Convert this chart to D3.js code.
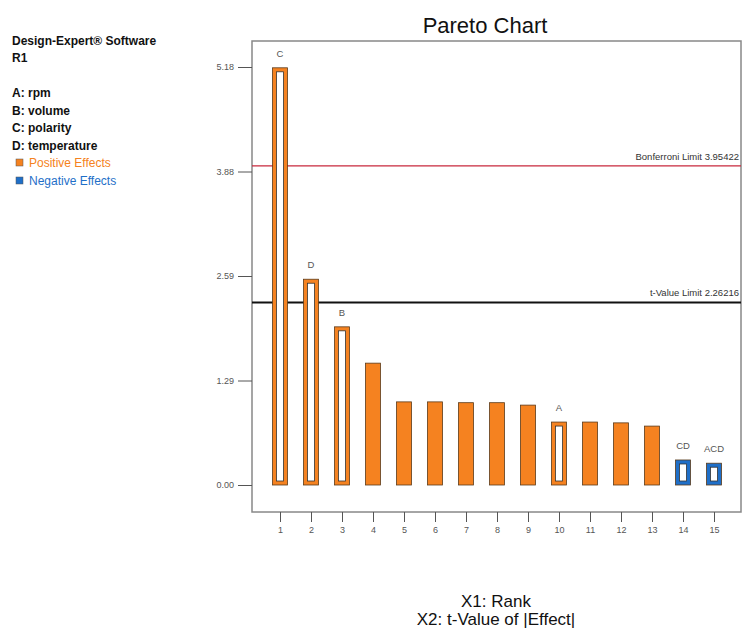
<!DOCTYPE html>
<html>
<head>
<meta charset="utf-8">
<script src="https://cdn.jsdelivr.net/npm/d3@7"></script>
<style>
  body { margin: 0; background: #fff; }
  svg { font-family: "Liberation Sans", Arial, sans-serif; }
</style>
</head>
<body>
<svg id="chart" width="743" height="630"></svg>
<script>
// data
const ranks = [1, 2, 3, 4, 5, 6, 7, 8, 9, 10, 11, 12, 13, 14, 15];
const tValues = [5.17, 2.55, 1.96, 1.51, 1.03, 1.03, 1.02, 1.02, 0.99, 0.78, 0.78, 0.77, 0.73, 0.31, 0.27];
const barLabels = ["C", "D", "B", "", "", "", "", "", "", "A", "", "", "", "CD", "ACD"];
const effectSign = ["+", "+", "+", "+", "+", "+", "+", "+", "+", "+", "+", "+", "+", "-", "-"];
const hollow = [true, true, true, false, false, false, false, false, false, true, false, false, false, true, true];
const yTicks = [0, 1.295, 2.59, 3.885, 5.18];
const yTickLabels = ["0.00", "1.29", "2.59", "3.88", "5.18"];
const limits = [
  { name: "Bonferroni Limit 3.95422", value: 3.95422, color: "#c8283c", width: 1.2 },
  { name: "t-Value Limit 2.26216", value: 2.26216, color: "#111", width: 2 }
];
const legendFactors = ["A: rpm", "B: volume", "C: polarity", "D: temperature"];

const svg = d3.select("#chart");
const plot = { left: 252, right: 741, top: 41, bottom: 512 };

const x = d3.scaleLinear().domain([1, 15]).range([280, 714]);
const y = d3.scaleLinear().domain([0, 5.18]).range([485, 67]);

const orange = "#f58220";
const blue = "#1f6fc8";

// title
svg.append("text")
  .attr("x", 485).attr("y", 33)
  .attr("text-anchor", "middle")
  .style("font-size", "22px")
  .style("fill", "#111")
  .text("Pareto Chart");

// left info block
const info = svg.append("g").style("font-size", "12px").style("fill", "#111");
info.append("text").attr("x", 12).attr("y", 45).style("font-weight", "bold").text("Design-Expert\u00ae Software");
info.append("text").attr("x", 12).attr("y", 62).style("font-weight", "bold").text("R1");
legendFactors.forEach((t, i) => {
  info.append("text").attr("x", 12).attr("y", 97 + i * 17.5).style("font-weight", "bold").text(t);
});
const legendEffects = [
  { label: "Positive Effects", color: orange },
  { label: "Negative Effects", color: blue }
];
legendEffects.forEach((d, i) => {
  const yy = 167 + i * 18;
  info.append("rect").attr("x", 16).attr("y", yy - 8).attr("width", 7).attr("height", 7)
    .attr("fill", d.color).attr("stroke", "#555").attr("stroke-width", 0.5);
  info.append("text").attr("x", 29).attr("y", yy).style("fill", d.color).text(d.label);
});

// plot border
svg.append("rect")
  .attr("x", plot.left).attr("y", plot.top)
  .attr("width", plot.right - plot.left).attr("height", plot.bottom - plot.top)
  .attr("fill", "none").attr("stroke", "#888").attr("stroke-width", 1.5);

// y axis
const yAxis = svg.append("g")
  .attr("transform", `translate(${plot.left},0)`)
  .call(d3.axisLeft(y).tickValues(yTicks).tickSize(14).tickPadding(4)
    .tickFormat((d, i) => yTickLabels[i]));
yAxis.select(".domain").remove();
yAxis.selectAll("line").attr("stroke", "#555");
yAxis.selectAll("text").style("font-size", "9px").style("fill", "#555")
  .style("font-family", "'Liberation Sans', Arial, sans-serif");

// x axis
const xAxis = svg.append("g")
  .attr("transform", `translate(0,${plot.bottom})`)
  .call(d3.axisBottom(x).tickValues(ranks).tickSize(10).tickPadding(5).tickFormat(d3.format("d")));
xAxis.select(".domain").remove();
xAxis.selectAll("line").attr("stroke", "#555");
xAxis.selectAll("text").style("font-size", "9px").style("fill", "#555")
  .style("font-family", "'Liberation Sans', Arial, sans-serif");

// limit lines
limits.forEach(l => {
  svg.append("line")
    .attr("x1", plot.left).attr("x2", plot.right)
    .attr("y1", y(l.value)).attr("y2", y(l.value))
    .attr("stroke", l.color).attr("stroke-width", l.width);
  svg.append("text")
    .attr("x", plot.right - 2).attr("y", y(l.value) - 6)
    .attr("text-anchor", "end")
    .style("font-size", "9.5px").style("fill", "#333")
    .text(l.name);
});

// bars
const bw = 15;
const data = ranks.map((r, i) => ({
  rank: r, value: tValues[i], label: barLabels[i], sign: effectSign[i], hollow: hollow[i]
}));

const bars = svg.append("g").selectAll("g").data(data).join("g");
bars.append("rect")
  .attr("x", d => x(d.rank) - bw / 2)
  .attr("y", d => y(d.value))
  .attr("width", bw)
  .attr("height", d => y(0) - y(d.value))
  .attr("fill", d => d.sign === "+" ? orange : blue)
  .attr("stroke", "#5a3a1a")
  .attr("stroke-width", 0.8);
bars.filter(d => d.hollow).append("rect")
  .attr("x", d => x(d.rank) - bw / 2 + 4)
  .attr("y", d => y(d.value) + 4)
  .attr("width", bw - 8)
  .attr("height", d => Math.max(0, y(0) - y(d.value) - 8))
  .attr("fill", "#fff")
  .attr("stroke", "#333")
  .attr("stroke-width", 0.8);
bars.filter(d => d.label).append("text")
  .attr("x", d => x(d.rank))
  .attr("y", d => y(d.value) - 11)
  .attr("text-anchor", "middle")
  .style("font-size", "9.5px").style("fill", "#555")
  .text(d => d.label);

// axis titles
svg.append("text").attr("x", 496).attr("y", 607).attr("text-anchor", "middle")
  .style("font-size", "17px").style("fill", "#111").text("X1: Rank");
svg.append("text").attr("x", 496).attr("y", 625).attr("text-anchor", "middle")
  .style("font-size", "17px").style("fill", "#111").text("X2: t-Value of |Effect|");
</script>
</body>
</html>
